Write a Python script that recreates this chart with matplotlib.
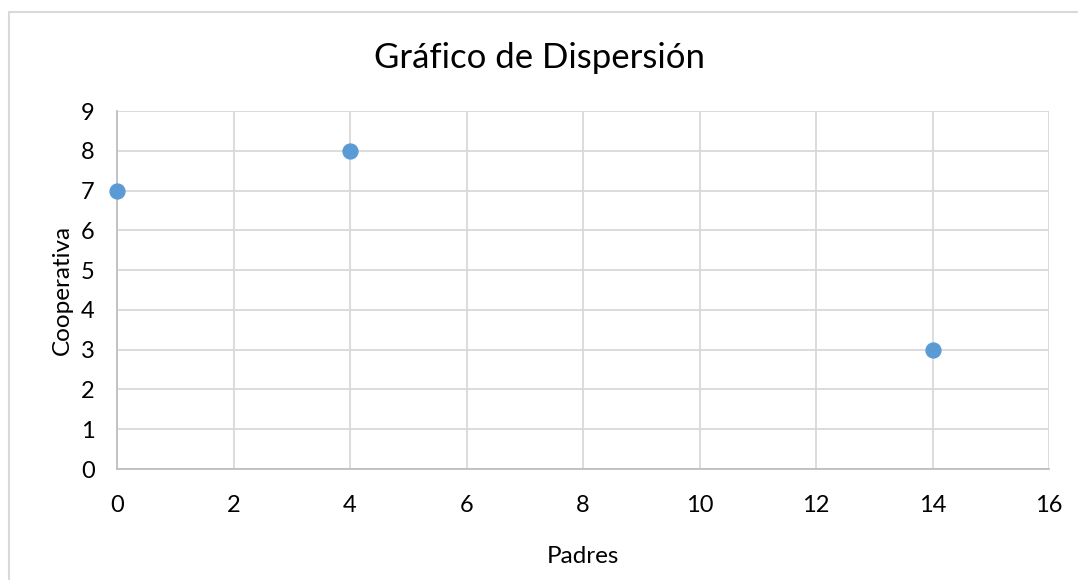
import matplotlib.pyplot as plt
from matplotlib.patches import Rectangle

# data
padres = [0, 4, 14]
cooperativa = [7, 8, 3]
x_ticks = [0, 2, 4, 6, 8, 10, 12, 14, 16]
y_ticks = [0, 1, 2, 3, 4, 5, 6, 7, 8, 9]

plt.rcParams['font.family'] = ['Lato', 'DejaVu Sans']

W, H = 1078, 580
fig = plt.figure(figsize=(W / 100, H / 100), dpi=100)
ax = fig.add_axes([117 / W, 1 - 469 / H, (1049 - 117) / W, (469 - 111) / H])

# outer chart border (right and bottom run off the image)
fig.patches.append(Rectangle((9 / W, -0.05), 1.1, 1 - 12 / H + 0.05,
                             transform=fig.transFigure, fill=False,
                             edgecolor='#d9d9d9', linewidth=1.5))

ax.scatter(padres, cooperativa, s=115, color='#5b9bd5', zorder=3, clip_on=False)

ax.set_xlim(0, 16)
ax.set_ylim(0, 9)
ax.set_xticks(x_ticks)
ax.set_yticks(y_ticks)
ax.grid(True, color='#d9d9d9', linewidth=1.3)
ax.set_axisbelow(True)
for side in ['top', 'right']:
    ax.spines[side].set_visible(False)
for side in ['left', 'bottom']:
    ax.spines[side].set_color('#bfbfbf')
    ax.spines[side].set_linewidth(1.3)
ax.tick_params(length=0, labelsize=17, colors='#000000')
ax.tick_params(axis='x', pad=19)
ax.tick_params(axis='y', pad=16)

ax.set_xlabel('Padres', fontsize=17.5, labelpad=21)
ax.set_ylabel('Cooperativa', fontsize=17.5, labelpad=6)
fig.text(0.5, 1 - 58 / H, 'Gráfico de Dispersión', ha='center', va='center', fontsize=25)

fig.savefig('out.png', dpi=100)
